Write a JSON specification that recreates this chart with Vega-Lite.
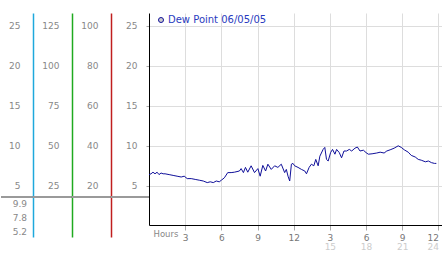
{
  "$schema": "https://vega.github.io/schema/vega-lite/v6.json",
  "padding": {"left": 0, "top": 13, "right": 0, "bottom": 0},
  "spacing": 0,
  "bounds": "flush",
  "config": {
    "font": "DejaVu Sans",
    "view": {"stroke": null},
    "axis": {"labelFont": "DejaVu Sans", "labelFontSize": 9, "labelColor": "#888888", "titleFont": "DejaVu Sans"}
  },
  "hconcat": [
    {
      "width": 32,
      "height": 224,
      "layer": [
        {
          "data": {"values": [{}]},
          "mark": {"type": "rule", "color": "#9a9a9a", "strokeWidth": 2},
          "encoding": {
            "y": {"datum": 3.6, "type": "quantitative", "scale": {"domain": [-1.4, 26.6], "nice": false, "zero": false}, "axis": null}
          }
        },
        {
          "data": {"values": [{"label": "9.9"}, {"label": "7.8"}, {"label": "5.2"}]},
          "mark": {"type": "text", "align": "right", "baseline": "middle", "dx": 10, "fontSize": 9, "color": "#888888"},
          "encoding": {
            "y": {"field": "label", "type": "nominal", "sort": null, "scale": {"type": "point", "range": [191, 219], "padding": 0}, "axis": null},
            "text": {"field": "label"}
          }
        }
      ],
      "resolve": {"scale": {"y": "independent"}}
    },
    {
      "width": 39,
      "height": 224,
      "data": {"values": [{}]},
      "mark": {"type": "rule", "color": "#9a9a9a", "strokeWidth": 2},
      "encoding": {
        "y": {"datum": 3.6, "type": "quantitative", "scale": {"domain": [-1.4, 26.6], "nice": false, "zero": false},
          "axis": {"orient": "left", "values": [5, 10, 15, 20, 25], "domainColor": "#1ea8dc", "domainWidth": 1.5, "ticks": false, "tickSize": 0, "labelPadding": 13, "grid": false, "title": null}}
      }
    },
    {
      "width": 39,
      "height": 224,
      "data": {"values": [{}]},
      "mark": {"type": "rule", "color": "#9a9a9a", "strokeWidth": 2},
      "encoding": {
        "y": {"datum": 18, "type": "quantitative", "scale": {"domain": [-7, 133], "nice": false, "zero": false},
          "axis": {"orient": "left", "values": [25, 50, 75, 100, 125], "domainColor": "#1faa1f", "domainWidth": 1.5, "ticks": false, "tickSize": 0, "labelPadding": 13, "grid": false, "title": null}}
      }
    },
    {
      "width": 38,
      "height": 224,
      "data": {"values": [{}]},
      "mark": {"type": "rule", "color": "#9a9a9a", "strokeWidth": 2},
      "encoding": {
        "y": {"datum": 14.4, "type": "quantitative", "scale": {"domain": [-5.6, 106.4], "nice": false, "zero": false},
          "axis": {"orient": "left", "values": [20, 40, 60, 80, 100], "domainColor": "#c01e1e", "domainWidth": 1.5, "ticks": false, "tickSize": 0, "labelPadding": 13, "grid": false, "title": null}}
      }
    },
    {
      "width": 293,
      "height": 212,
      "data": {"values": [
        {"h": 0.00, "dp": 6.4}, {"h": 0.17, "dp": 6.5}, {"h": 0.33, "dp": 6.7}, {"h": 0.50, "dp": 6.5},
        {"h": 0.67, "dp": 6.7}, {"h": 0.83, "dp": 6.4}, {"h": 1.00, "dp": 6.6}, {"h": 1.17, "dp": 6.5},
        {"h": 1.33, "dp": 6.5}, {"h": 1.67, "dp": 6.4}, {"h": 2.00, "dp": 6.3}, {"h": 2.33, "dp": 6.2},
        {"h": 2.67, "dp": 6.1}, {"h": 2.92, "dp": 6.2}, {"h": 3.17, "dp": 5.9}, {"h": 3.50, "dp": 5.9},
        {"h": 3.83, "dp": 5.8}, {"h": 4.17, "dp": 5.7}, {"h": 4.50, "dp": 5.6}, {"h": 4.83, "dp": 5.4},
        {"h": 5.08, "dp": 5.5}, {"h": 5.33, "dp": 5.4}, {"h": 5.58, "dp": 5.6}, {"h": 5.83, "dp": 5.5},
        {"h": 6.00, "dp": 5.7}, {"h": 6.25, "dp": 6.0}, {"h": 6.53, "dp": 6.65}, {"h": 6.81, "dp": 6.65},
        {"h": 7.08, "dp": 6.7}, {"h": 7.50, "dp": 6.85}, {"h": 7.64, "dp": 7.15}, {"h": 7.83, "dp": 6.65},
        {"h": 8.00, "dp": 7.3}, {"h": 8.19, "dp": 6.7}, {"h": 8.47, "dp": 7.5}, {"h": 8.75, "dp": 6.65},
        {"h": 9.03, "dp": 7.15}, {"h": 9.22, "dp": 6.2}, {"h": 9.44, "dp": 7.55}, {"h": 9.67, "dp": 6.85},
        {"h": 9.86, "dp": 7.7}, {"h": 10.14, "dp": 7.05}, {"h": 10.42, "dp": 7.5}, {"h": 10.69, "dp": 7.3},
        {"h": 10.97, "dp": 7.7}, {"h": 11.25, "dp": 6.65}, {"h": 11.39, "dp": 7.05}, {"h": 11.53, "dp": 6.2},
        {"h": 11.67, "dp": 5.6}, {"h": 11.81, "dp": 7.7}, {"h": 11.94, "dp": 7.8}, {"h": 12.08, "dp": 7.5},
        {"h": 12.36, "dp": 7.3}, {"h": 12.64, "dp": 7.05}, {"h": 12.92, "dp": 6.85}, {"h": 13.06, "dp": 6.5},
        {"h": 13.28, "dp": 7.3}, {"h": 13.47, "dp": 7.7}, {"h": 13.67, "dp": 7.5}, {"h": 13.83, "dp": 8.3},
        {"h": 14.03, "dp": 7.5}, {"h": 14.17, "dp": 8.7}, {"h": 14.44, "dp": 9.55}, {"h": 14.58, "dp": 9.8},
        {"h": 14.72, "dp": 8.3}, {"h": 14.86, "dp": 8.1}, {"h": 15.06, "dp": 9.15}, {"h": 15.22, "dp": 9.55},
        {"h": 15.42, "dp": 8.95}, {"h": 15.56, "dp": 9.55}, {"h": 15.78, "dp": 9.15}, {"h": 15.97, "dp": 8.5},
        {"h": 16.17, "dp": 9.35}, {"h": 16.39, "dp": 9.35}, {"h": 16.61, "dp": 9.55}, {"h": 16.81, "dp": 9.35},
        {"h": 17.08, "dp": 9.7}, {"h": 17.28, "dp": 9.85}, {"h": 17.50, "dp": 9.35}, {"h": 17.78, "dp": 9.45},
        {"h": 18.00, "dp": 9.15}, {"h": 18.19, "dp": 8.95}, {"h": 18.50, "dp": 9.0}, {"h": 18.89, "dp": 9.1},
        {"h": 19.17, "dp": 9.2}, {"h": 19.50, "dp": 9.1}, {"h": 19.72, "dp": 9.35}, {"h": 20.00, "dp": 9.5},
        {"h": 20.33, "dp": 9.7}, {"h": 20.67, "dp": 10.0}, {"h": 20.92, "dp": 9.8}, {"h": 21.17, "dp": 9.5},
        {"h": 21.50, "dp": 9.2}, {"h": 21.75, "dp": 8.8}, {"h": 22.08, "dp": 8.6}, {"h": 22.33, "dp": 8.3},
        {"h": 22.58, "dp": 8.2}, {"h": 22.92, "dp": 8.0}, {"h": 23.17, "dp": 8.1}, {"h": 23.42, "dp": 7.9},
        {"h": 23.67, "dp": 7.8}, {"h": 23.83, "dp": 7.8}
      ]},
      "layer": [
        {
          "mark": {"type": "line", "strokeWidth": 1},
          "encoding": {
            "x": {"field": "h", "type": "quantitative", "scale": {"domain": [0, 24.3], "nice": false, "zero": false},
              "axis": {"values": [3, 6, 9, 12, 15, 18, 21, 24], "labelExpr": "datum.value % 12 == 0 ? '12' : '' + (datum.value % 12)",
                "labelAlign": {"condition": {"test": "datum.value == 24", "value": "right"}, "value": "center"},
                "grid": true, "gridColor": "#dddddd", "domainColor": "#000000", "tickColor": "#aaaaaa", "tickSize": 5, "labelPadding": 3,
                "labelColor": "#777777", "labelOverlap": false, "labelBound": false,
                "title": "Hours", "titleAnchor": "start", "titleAlign": "left", "titleBaseline": "alphabetic", "titleX": 4, "titleY": 11,
                "titleFontSize": 8.5, "titleFontWeight": "normal", "titleColor": "#888888"}},
            "y": {"field": "dp", "type": "quantitative", "scale": {"domain": [0.1, 26.6], "nice": false, "zero": false},
              "axis": {"values": [5, 10, 15, 20, 25], "grid": true, "gridColor": "#dddddd", "domainColor": "#000000", "tickColor": "#aaaaaa",
                "tickSize": 3, "labelPadding": 9, "title": null}},
            "color": {"datum": "Dew Point 06/05/05", "type": "nominal", "scale": {"range": ["#10109a"]},
              "legend": {"title": null, "orient": "none", "legendX": 155, "legendY": 2, "padding": 0, "symbolType": "circle", "symbolSize": 25,
                "labelFont": "DejaVu Sans", "labelFontSize": 10, "labelColor": "#2a3bc0", "labelOffset": 2,
                "encode": {"symbols": {"update": {"fill": {"value": "#cccccc"}, "stroke": {"value": "#999999"}, "strokeWidth": {"value": 1}}}}}}
          }
        },
        {
          "mark": {"type": "line", "opacity": 0},
          "encoding": {
            "x": {"field": "h", "type": "quantitative",
              "axis": {"orient": "bottom", "values": [15, 18, 21, 24], "labelColor": "#cccccc", "ticks": false, "tickSize": 0, "domain": false,
                "labelAlign": {"condition": {"test": "datum.value == 24", "value": "right"}, "value": "center"},
                "grid": false, "labelPadding": 17, "labelOverlap": false, "labelBound": false, "title": null}},
            "y": {"field": "dp", "type": "quantitative"}
          }
        }
      ],
      "resolve": {"axis": {"x": "independent"}}
    }
  ]
}
